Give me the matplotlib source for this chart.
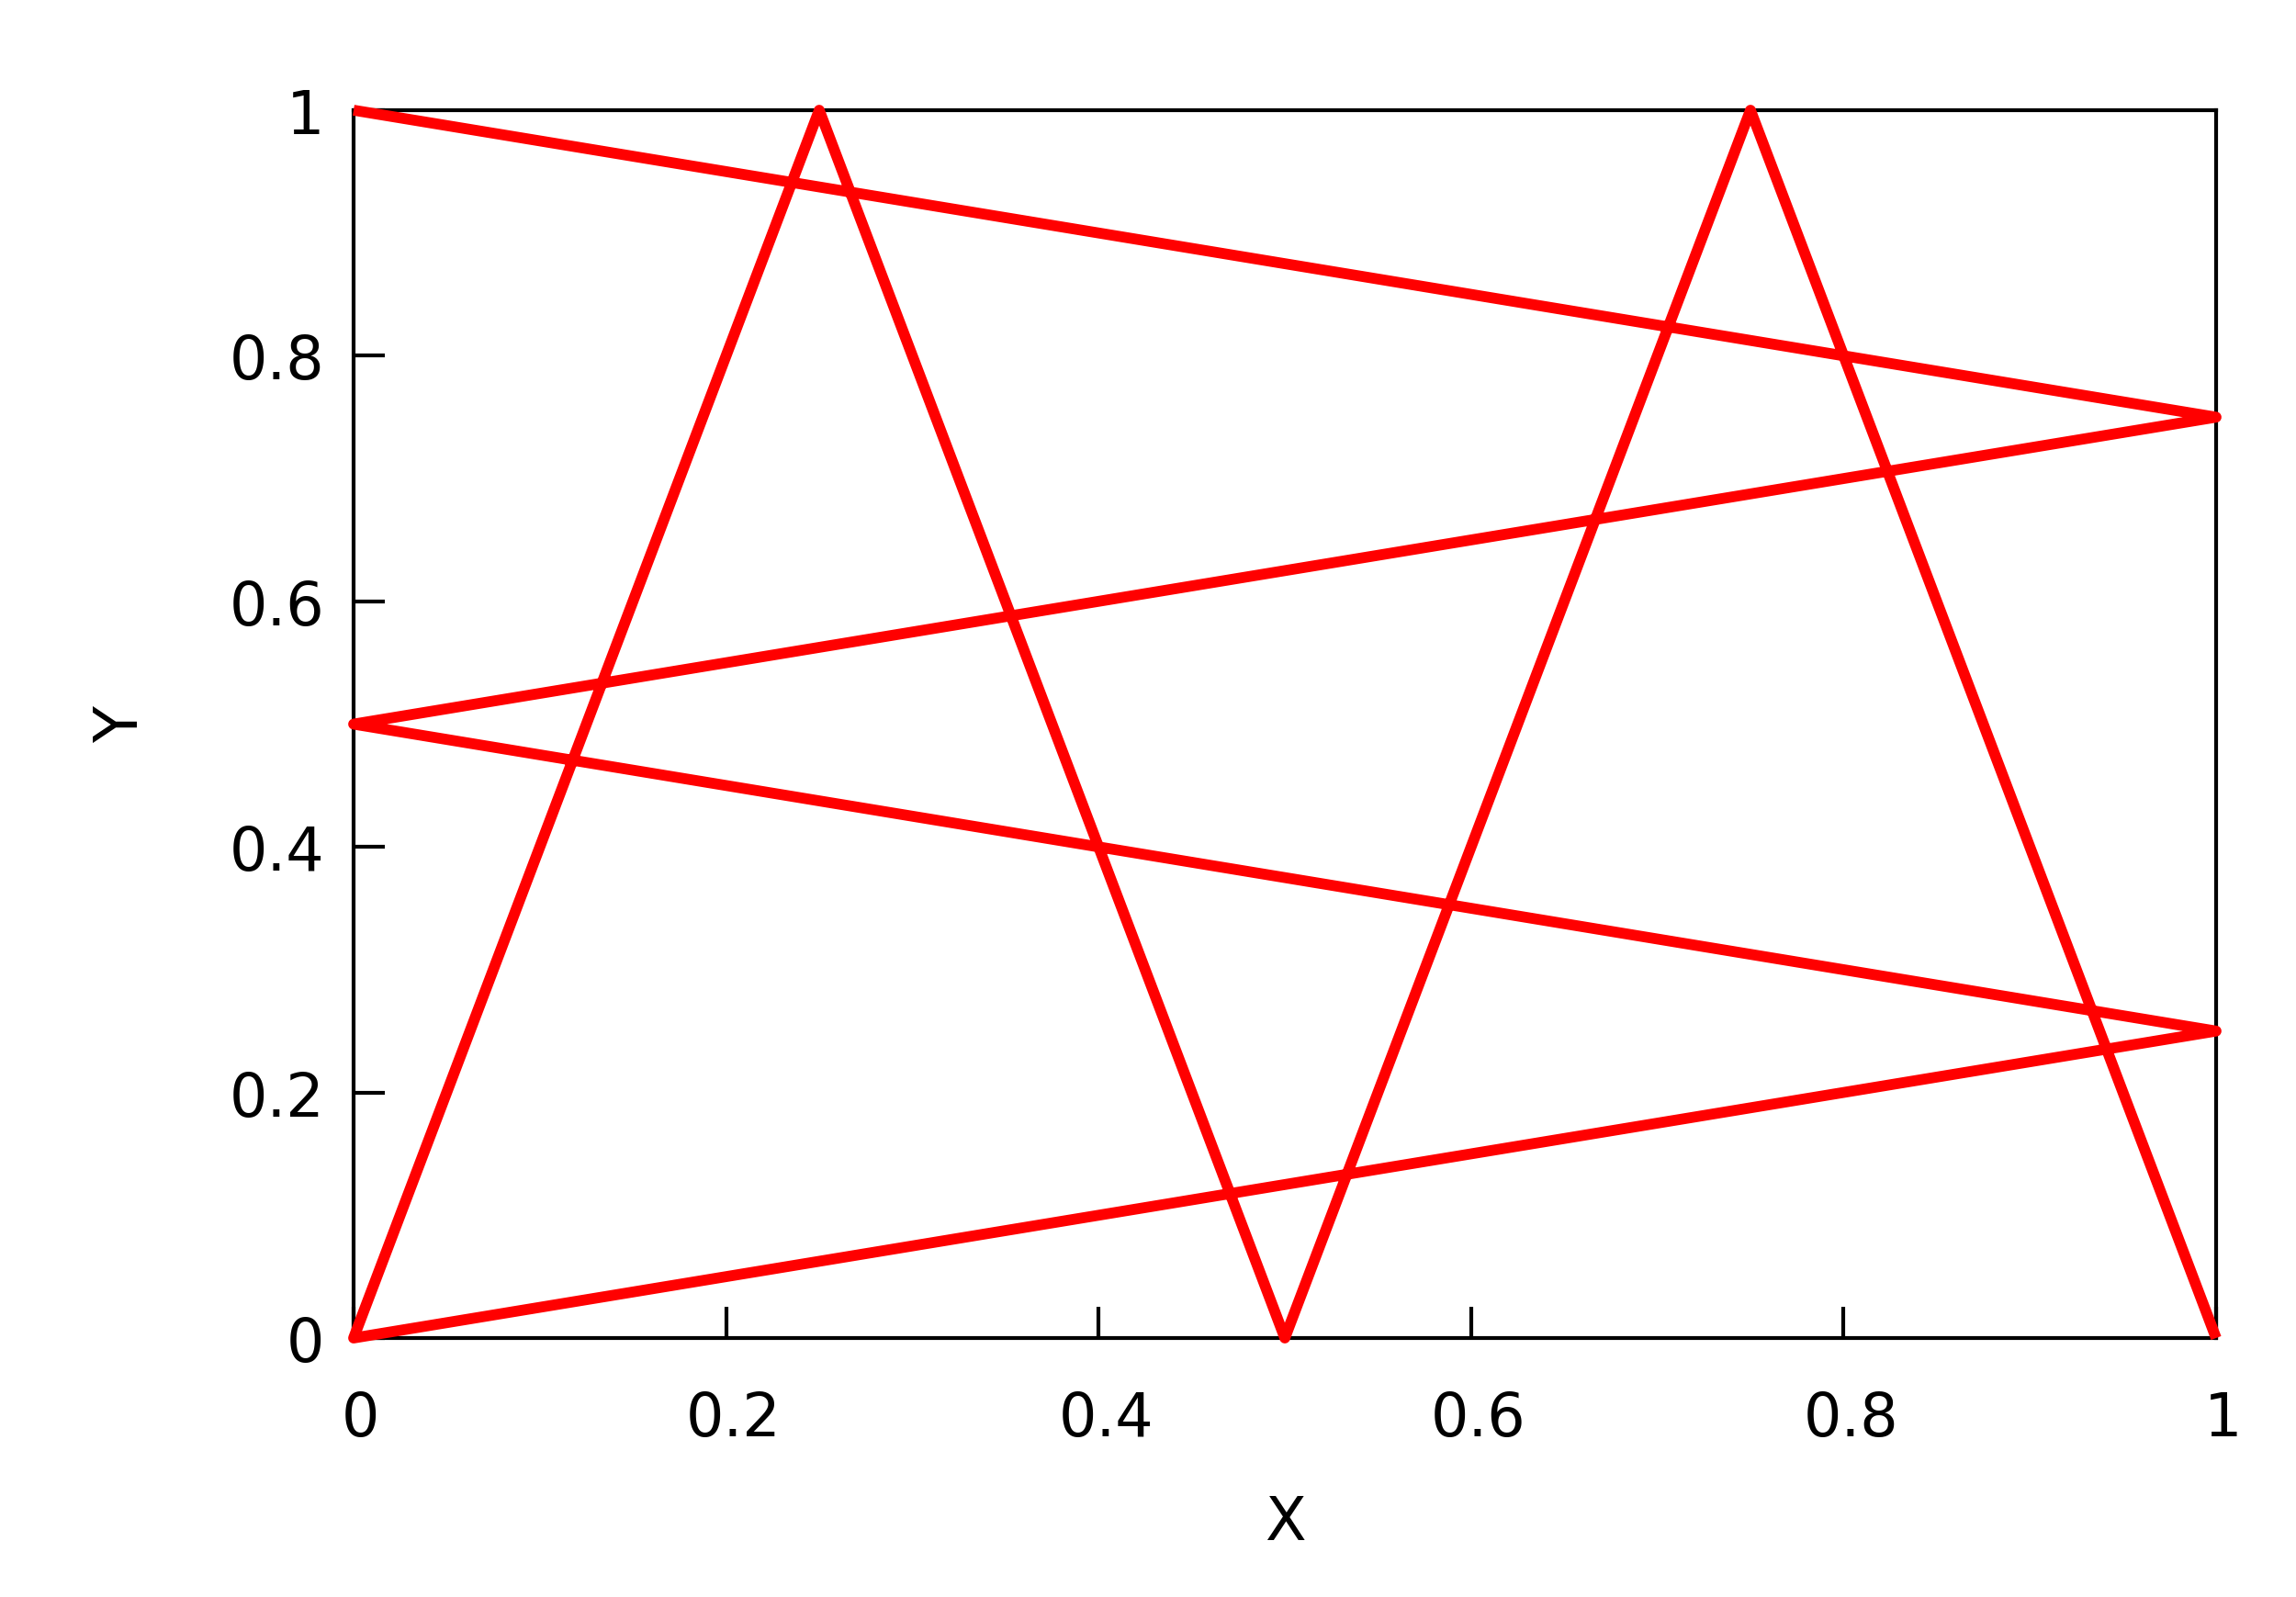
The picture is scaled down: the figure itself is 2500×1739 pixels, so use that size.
import matplotlib
matplotlib.use("Agg")
import matplotlib.pyplot as plt
import matplotlib.transforms as mtransforms

# path of the red curve (gnuplot-style figure)
x_vals = [0, 1, 0, 1, 0, 0.25, 0.5, 0.75, 1]
y_vals = [1, 0.75, 0.5, 0.25, 0, 1, 0, 1, 0]

x_ticks = [0, 0.2, 0.4, 0.6, 0.8, 1]
x_labels = ["0", "0.2", "0.4", "0.6", "0.8", "1"]
y_ticks = [0, 0.2, 0.4, 0.6, 0.8, 1]
y_labels = ["0", "0.2", "0.4", "0.6", "0.8", "1"]

plt.rcParams["font.family"] = ["DejaVu Sans"]

fig = plt.figure(figsize=(25, 17.4), dpi=100)
ax = fig.add_axes([0.154, 0.16207, 0.8112, 0.76839])

ax.plot(x_vals, y_vals, color="#ff0000", lw=8.5, clip_on=False,
        solid_joinstyle="round", solid_capstyle="butt", zorder=3)

ax.set_xlim(0, 1)
ax.set_ylim(0, 1)
ax.set_xticks(x_ticks)
ax.set_xticklabels(x_labels)
ax.set_yticks(y_ticks)
ax.set_yticklabels(y_labels)

for side in ax.spines.values():
    side.set_linewidth(3.0)
    side.set_color("black")

ax.tick_params(axis="both", direction="in", length=24.5, width=3.0,
               labelsize=47, top=False, right=False)
ax.tick_params(axis="y", pad=23)
ax.tick_params(axis="x", pad=40)

# gnuplot puts the x tick labels a little right of the ticks
shift = mtransforms.ScaledTranslation(8 / 100, 0, fig.dpi_scale_trans)
for lab in ax.get_xticklabels():
    lab.set_transform(lab.get_transform() + shift)

ax.set_xlabel("X", fontsize=47)
ax.set_ylabel("Y", fontsize=47)
ax.xaxis.label.set_va("center")
ax.yaxis.label.set_va("center")
ax.xaxis.set_label_coords(0.5, -0.1503)
ax.yaxis.set_label_coords(-0.1248, 0.5)

fig.savefig("out.png", dpi=100)
